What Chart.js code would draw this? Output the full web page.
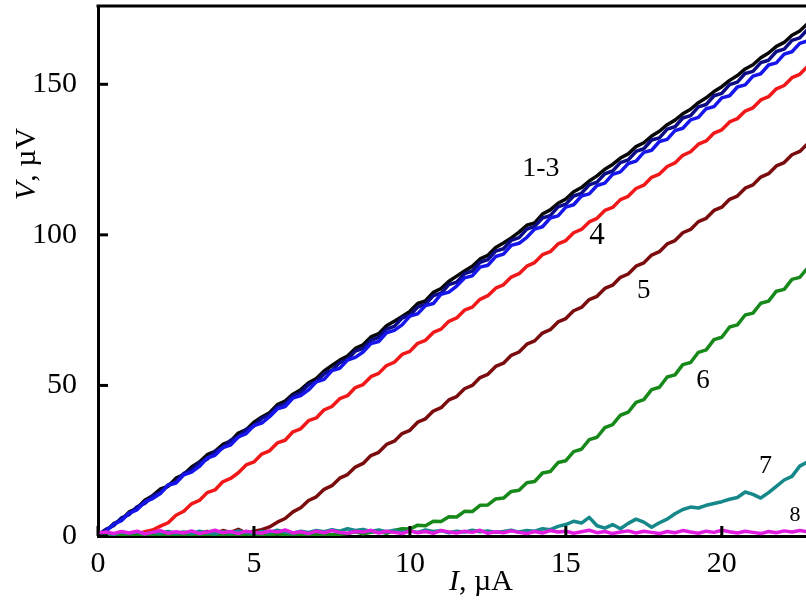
<!DOCTYPE html>
<html>
<head>
<meta charset="utf-8">
<script src="https://cdn.jsdelivr.net/npm/chart.js@4"></script>
<style>
  html, body { margin: 0; padding: 0; background: #fff; }
  #wrap { width: 806px; height: 603px; position: relative; }
</style>
</head>
<body>
<div id="wrap"><canvas id="iv-curves"></canvas></div>
<script>
// ── current axis, µA (step 0.25) ──────────────────────────────────
const current = [
  0, 0.25, 0.5, 0.75, 1, 1.25, 1.5, 1.75, 2, 2.25,
  2.5, 2.75, 3, 3.25, 3.5, 3.75, 4, 4.25, 4.5, 4.75,
  5, 5.25, 5.5, 5.75, 6, 6.25, 6.5, 6.75, 7, 7.25,
  7.5, 7.75, 8, 8.25, 8.5, 8.75, 9, 9.25, 9.5, 9.75,
  10, 10.25, 10.5, 10.75, 11, 11.25, 11.5, 11.75, 12, 12.25,
  12.5, 12.75, 13, 13.25, 13.5, 13.75, 14, 14.25, 14.5, 14.75,
  15, 15.25, 15.5, 15.75, 16, 16.25, 16.5, 16.75, 17, 17.25,
  17.5, 17.75, 18, 18.25, 18.5, 18.75, 19, 19.25, 19.5, 19.75,
  20, 20.25, 20.5, 20.75, 21, 21.25, 21.5, 21.75, 22, 22.25,
  22.5, 22.75
];

// ── voltage, µV, one array per curve ─────────────────────────────
const v1 = [
  0, 1.6, 4.1, 5.3, 8.0, 9.2, 11.9, 13.4, 15.6, 16.5,
  19.2, 20.4, 22.9, 24.6, 27.0, 28.1, 30.4, 31.5, 34.2, 35.3,
  37.8, 39.5, 40.9, 43.6, 44.8, 47.1, 48.6, 50.9, 52.3, 54.8,
  56.6, 58.4, 59.8, 62.3, 63.5, 66.1, 67.2, 69.8, 71.3, 72.9,
  74.6, 77.2, 78.1, 80.9, 82.2, 84.6, 86.3, 88.0, 89.6, 92.0,
  93.2, 95.8, 97.3, 99.0, 100.9, 103.2, 104.0, 106.9, 108.3, 110.5,
  111.9, 114.3, 115.7, 117.9, 119.6, 121.8, 123.4, 125.5, 126.9, 129.3,
  130.6, 132.8, 134.4, 136.6, 138.1, 140.2, 141.7, 143.9, 145.5, 147.6,
  149.2, 151.3, 152.9, 155.1, 156.5, 158.8, 160.4, 162.6, 163.9, 166.3,
  167.7, 170.1
];
const v2 = [
  0.4, 2.2, 3.4, 6.0, 7.1, 9.7, 10.8, 13.3, 14.5, 17.0,
  18.1, 20.8, 21.9, 24.3, 25.5, 28.1, 29.2, 31.8, 32.9, 35.4,
  36.5, 39.1, 40.2, 42.9, 44.0, 46.5, 47.6, 50.3, 51.2, 53.9,
  55.0, 57.6, 58.6, 61.4, 62.3, 65.0, 66.0, 68.7, 69.6, 72.4,
  73.3, 76.0, 77.0, 79.8, 80.6, 83.5, 84.3, 87.1, 88.0, 90.9,
  91.8, 94.6, 95.4, 98.2, 99.1, 101.9, 102.8, 105.6, 106.4, 109.3,
  110.2, 112.9, 113.8, 116.6, 117.5, 120.3, 121.2, 124.0, 124.9, 127.7,
  128.6, 131.5, 132.2, 135.1, 135.9, 138.8, 139.6, 142.5, 143.3, 146.2,
  147.0, 149.9, 150.7, 153.6, 154.3, 157.2, 158.0, 160.9, 161.7, 164.6,
  165.4, 168.2
];
const v3 = [
  0.2, 1.5, 3.9, 5.1, 7.6, 8.7, 11.3, 12.4, 14.1, 16.8,
  17.6, 20.3, 21.2, 23.1, 25.9, 26.8, 29.4, 30.2, 32.9, 34.0,
  36.7, 37.5, 39.6, 42.2, 43.0, 45.8, 46.6, 48.5, 51.2, 52.0,
  54.9, 55.7, 58.4, 59.3, 61.1, 63.9, 64.6, 67.5, 68.3, 70.1,
  73.0, 73.8, 76.5, 77.2, 80.3, 81.0, 83.0, 85.7, 86.4, 89.3,
  89.9, 92.8, 93.6, 96.5, 97.2, 99.2, 101.9, 102.7, 105.6, 106.3,
  109.2, 110.0, 112.9, 113.6, 116.4, 117.2, 120.1, 120.9, 123.7, 124.5,
  127.4, 128.1, 131.0, 131.7, 134.6, 135.4, 138.2, 139.0, 141.9, 142.6,
  145.5, 146.2, 149.1, 149.8, 152.7, 153.5, 156.4, 157.1, 160.0, 160.8,
  163.6, 164.4
];
const v4 = [
  0.3, 0.2, 0.4, 0.1, 0.3, 0.6, 1.4, 2.0, 3.3, 4.4,
  6.9, 8.2, 10.7, 11.8, 14.4, 15.3, 18.0, 19.1, 21.0, 23.6,
  24.6, 27.2, 28.3, 30.9, 31.8, 34.6, 35.6, 38.3, 39.2, 41.9,
  43.0, 45.6, 46.6, 49.3, 50.3, 52.9, 54.0, 56.6, 57.7, 60.3,
  61.3, 64.0, 65.0, 67.6, 68.7, 71.3, 72.4, 75.0, 76.0, 78.6,
  79.8, 82.3, 83.4, 86.0, 87.1, 89.6, 90.8, 93.4, 94.4, 97.0,
  98.1, 100.7, 101.8, 104.3, 105.5, 108.1, 109.1, 111.7, 112.8, 115.4,
  116.5, 119.1, 120.2, 122.7, 123.9, 126.4, 127.6, 130.1, 131.2, 133.8,
  134.9, 137.5, 138.6, 141.1, 142.2, 144.8, 145.9, 148.5, 149.6, 152.2,
  153.3, 155.9
];
const v5 = [
  0.2, 0.4, 0.3, 0.5, 0.2, 0.4, 0.6, 0.3, 0.5, 0.4,
  0.3, 0.6, 0.4, 0.8, 1.5, 0.9, 1.8, 1.2, 2.2, 1.0,
  1.6, 2.1, 3.0, 4.6, 5.8, 8.0, 9.4, 11.8, 13.0, 15.5,
  16.7, 19.2, 20.4, 22.9, 24.1, 26.7, 27.8, 30.4, 31.5, 34.0,
  35.1, 37.8, 38.9, 41.5, 42.6, 45.2, 46.3, 48.9, 50.0, 52.6,
  53.7, 56.3, 57.4, 60.0, 61.1, 63.7, 64.8, 67.4, 68.5, 71.1,
  72.2, 74.8, 75.9, 78.5, 79.6, 82.2, 83.3, 85.9, 87.0, 89.6,
  90.7, 93.3, 94.4, 97.0, 98.1, 100.7, 101.8, 104.4, 105.5, 108.1,
  109.2, 111.8, 112.9, 115.5, 116.6, 119.2, 120.3, 122.9, 124.0, 126.6,
  127.7, 130.2
];
const v6 = [
  0.5, 0.3, 0.6, 0.4, 0.7, 0.3, 0.5, 0.6, 0.4, 0.5,
  0.3, 0.6, 0.5, 0.4, 0.7, 0.5, 0.3, 0.6, 0.4, 0.5,
  0.6, 0.4, 0.5, 0.7, 0.3, 0.5, 0.6, 0.4, 0.7, 0.5,
  0.4, 0.6, 0.8, 1.4, 0.7, 1.2, 1.5, 0.9, 1.8, 2.4,
  2.3, 3.6, 3.4, 4.9, 4.8, 6.4, 6.3, 8.2, 8.1, 10.2,
  10.3, 12.3, 12.6, 14.8, 15.2, 17.7, 18.1, 20.9, 21.4, 24.4,
  25.0, 28.0, 28.8, 32.0, 32.8, 36.0, 37.0, 40.1, 41.1, 44.4,
  45.3, 48.6, 49.4, 52.8, 53.5, 56.9, 57.6, 61.0, 61.8, 65.2,
  66.0, 69.4, 70.1, 73.4, 74.0, 77.3, 78.0, 81.3, 81.9, 85.2,
  85.9, 89.0
];
const v7 = [
  0.8, 1.1, 0.6, 1.3, 0.9, 1.4, 0.7, 1.2, 1.0, 1.5,
  0.9, 1.3, 0.8, 1.6, 1.1, 0.7, 1.4, 1.0, 1.7, 1.2,
  0.8, 1.5, 1.1, 1.9, 1.3, 0.9, 1.6, 1.2, 1.8, 1.4,
  2.1, 1.6, 2.4, 1.8, 2.2, 1.5, 2.0, 1.4, 1.9, 1.3,
  1.7, 1.2, 2.0, 1.5, 1.8, 1.1, 1.6, 1.3, 1.9, 1.4,
  1.7, 1.2, 1.5, 1.9, 1.3, 1.8, 1.6, 2.4, 2.1, 3.2,
  3.8, 4.9, 4.3, 6.2, 3.4, 2.6, 3.8, 2.4, 4.2, 5.6,
  4.6, 2.9, 4.4, 5.6, 7.4, 8.8, 9.6, 9.3, 10.2, 10.8,
  11.4, 12.2, 12.8, 14.6, 13.8, 12.6, 14.4, 16.5, 18.6, 19.8,
  23.2, 24.6
];
const v8 = [
  0.9, 1.3, 0.8, 1.5, 1.0, 1.6, 0.7, 1.2, 1.8, 0.9,
  1.4, 1.0, 1.7, 0.8, 1.3, 1.9, 1.1, 1.5, 0.8, 1.6,
  1.2, 0.9, 1.7, 1.3, 2.0, 1.0, 1.4, 0.8, 1.6, 1.1,
  1.8, 1.2, 0.9, 1.5, 1.3, 1.9, 1.0, 1.6, 1.2, 0.8,
  1.7, 1.1, 1.5, 0.9, 1.8, 1.3, 1.0, 1.6, 1.2, 1.9,
  0.9, 1.4, 1.1, 1.7, 1.2, 0.8, 1.5, 1.0, 1.8, 1.3,
  1.6, 0.9, 1.4, 1.9, 1.1, 1.5, 0.8, 1.3, 1.7, 1.0,
  1.6, 1.2, 0.8, 1.5, 1.1, 1.8, 1.3, 0.9, 1.6, 1.2,
  1.9, 1.4, 1.0, 1.6, 1.2, 0.8, 1.5, 1.1, 1.7, 1.3,
  1.8, 1.4
];

// curve numbers written next to the lines
const curveNames = ['1-3', '4', '5', '6', '7', '8'];

const serif = '"Liberation Serif", "Times New Roman", serif';

// ── styling ──────────────────────────────────────────────────────
// first entry is drawn on top
const curves = [
  { data: v8, color: '#e01ee0' },
  { data: v7, color: '#16888a' },
  { data: v6, color: '#17891a' },
  { data: v5, color: '#7a0c0e' },
  { data: v4, color: '#f01818' },
  { data: v3, color: '#1616ec' },
  { data: v2, color: '#0c0c86' },
  { data: v1, color: '#080808' },
];

// where each curve number sits, in axis units
const notes = [
  { i: 14.2,  v: 122,  size: 28 },
  { i: 16.0,  v: 99.6, size: 31 },
  { i: 17.5,  v: 81.3, size: 27 },
  { i: 19.4,  v: 51.4, size: 27 },
  { i: 21.4,  v: 23.2, size: 26 },
  { i: 22.35, v: 7.0,  size: 22 },
];

const toPoints = vals => vals.map((v, k) => ({ x: current[k], y: v }));

// ── frame, inward ticks, axis titles, curve numbers ──────────────
const frame = {
  id: 'frame',
  afterDraw(chart) {
    const { ctx, chartArea: a, scales: { x, y } } = chart;
    ctx.save();
    ctx.strokeStyle = '#000';
    ctx.fillStyle = '#000';

    ctx.lineWidth = 3;
    ctx.beginPath();
    ctx.moveTo(a.left - 1.5, a.top);
    ctx.lineTo(a.right, a.top);
    ctx.stroke();

    y.ticks.forEach(t => {
      const py = y.getPixelForValue(t.value);
      const len = t.value % 50 === 0 ? 10 : 6;
      ctx.beginPath();
      ctx.moveTo(a.left, py);
      ctx.lineTo(a.left + len, py);
      ctx.stroke();
    });
    x.ticks.forEach(t => {
      const px = x.getPixelForValue(t.value);
      const len = t.value % 5 === 0 ? 10 : 6;
      ctx.beginPath();
      ctx.moveTo(px, a.bottom);
      ctx.lineTo(px, a.bottom - len);
      ctx.stroke();
    });

    // curve numbers
    ctx.textAlign = 'center';
    ctx.textBaseline = 'middle';
    notes.forEach((n, k) => {
      ctx.font = n.size + 'px ' + serif;
      ctx.fillText(curveNames[k], x.getPixelForValue(n.i), y.getPixelForValue(n.v));
    });

    // axis titles: italic symbol + plain unit
    const title = (sym, unit) => {
      ctx.font = 'italic 30px ' + serif;
      const w1 = ctx.measureText(sym).width;
      ctx.font = '30px ' + serif;
      const w2 = ctx.measureText(unit).width;
      const x0 = -(w1 + w2) / 2;
      ctx.textAlign = 'left';
      ctx.textBaseline = 'alphabetic';
      ctx.font = 'italic 30px ' + serif;
      ctx.fillText(sym, x0, 0);
      ctx.font = '30px ' + serif;
      ctx.fillText(unit, x0 + w1, 0);
    };

    ctx.save();
    ctx.translate(481, 590);
    title('I', ', \u00b5A');
    ctx.restore();

    ctx.save();
    ctx.translate(35, 164);
    ctx.rotate(-Math.PI / 2);
    title('V', ', \u00b5V');
    ctx.restore();

    ctx.restore();
  }
};

new Chart(document.getElementById('iv-curves'), {
  type: 'line',
  data: {
    datasets: curves.map(c => ({
      data: toPoints(c.data),
      borderColor: c.color,
      borderWidth: 3.5,
      pointRadius: 0,
      tension: 0,
      fill: false,
      borderJoinStyle: 'round',
    }))
  },
  options: {
    responsive: true,
    maintainAspectRatio: false,
    animation: false,
    layout: { padding: { top: 6, right: 0, left: 0, bottom: 0 } },
    plugins: { legend: { display: false }, tooltip: { enabled: false } },
    scales: {
      x: {
        type: 'linear',
        min: 0, max: 22.7,
        grid: { display: false },
        border: { display: true, width: 3, color: '#000' },
        ticks: {
          stepSize: 2.5, includeBounds: false, autoSkip: false, maxRotation: 0,
          padding: 2, color: '#000', font: { family: serif, size: 30 },
          callback: v => (v % 5 === 0 ? v : null)
        },
        afterFit: s => { s.height = 67; s.paddingLeft = 0; s.paddingRight = 0; }
      },
      y: {
        min: 0, max: 176,
        grid: { display: false },
        border: { display: true, width: 3, color: '#000' },
        ticks: {
          stepSize: 25, includeBounds: false,
          padding: 13, color: '#000', font: { family: serif, size: 30 },
          callback: v => (v % 50 === 0 ? v : null)
        },
        afterFit: s => { s.width = 98; s.paddingTop = 0; s.paddingBottom = 0; }
      }
    }
  },
  plugins: [frame]
});
</script>
</body>
</html>
